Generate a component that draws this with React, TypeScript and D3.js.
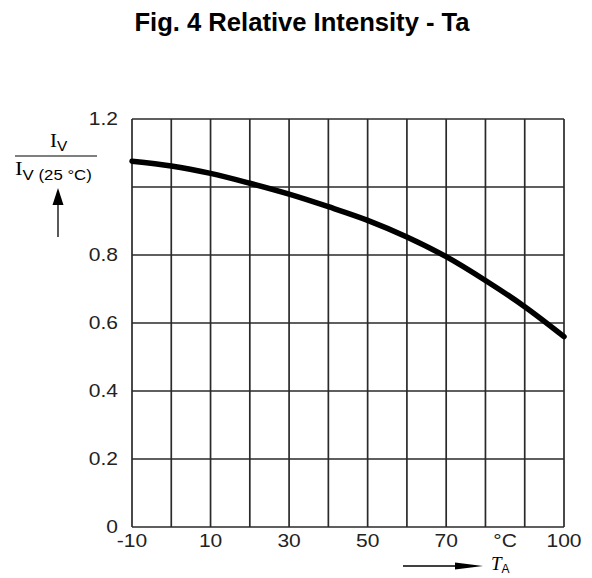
import React from "react";
import * as d3 from "d3";

const temps = [-10, 0, 10, 20, 30, 40, 50, 60, 70, 80, 90, 100];
const intensity = [1.076, 1.062, 1.04, 1.011, 0.979, 0.942, 0.902, 0.853, 0.795, 0.725, 0.648, 0.56];
const xGrid = [-10, 0, 10, 20, 30, 40, 50, 60, 70, 80, 90, 100];
const yGrid = [0, 0.2, 0.4, 0.6, 0.8, 1.0, 1.2];
const xTickValues = [-10, 10, 30, 50, 70, 85, 100];
const xTickLabels = ["-10", "10", "30", "50", "70", "°C", "100"];
const yTickValues = [0, 0.2, 0.4, 0.6, 0.8, 1.2];
const yTickLabels = ["0", "0.2", "0.4", "0.6", "0.8", "1.2"];
const title = "Fig. 4 Relative Intensity - Ta";

export default function App() {
  const W = 592, H = 578;
  const x = d3.scaleLinear().domain([-10, 100]).range([132, 564]);
  const y = d3.scaleLinear().domain([0, 1.2]).range([527, 119]);
  const pts = temps.map((t, i) => [t, intensity[i]] as [number, number]);
  const line = d3.line<[number, number]>().x(d => x(d[0])).y(d => y(d[1])).curve(d3.curveCatmullRom);
  const sans = "'Liberation Sans', Arial, sans-serif";
  const serif = "'Liberation Serif', 'Times New Roman', serif";
  const gridColor = "#2a2a2a";
  const sx = 1.2;
  return (
    <svg width={W} height={H} style={{ position: "absolute", left: 0, top: 0, background: "#fff" }}>
      <rect x={0} y={0} width={W} height={H} fill="#fff" />
      <text x={302} y={31} textAnchor="middle" fontFamily={sans} fontWeight="bold" fontSize={25.6} fill="#000">{title}</text>
      {xGrid.map(v => (
        <line key={"vx" + v} x1={x(v)} x2={x(v)} y1={y(0)} y2={y(1.2)} stroke={gridColor} strokeWidth={1.7} />
      ))}
      {yGrid.map(v => (
        <line key={"hy" + v} x1={x(-10)} x2={x(100)} y1={y(v)} y2={y(v)} stroke={gridColor} strokeWidth={1.7} />
      ))}
      {yTickValues.map((v, i) => (
        <g key={"yt" + v} transform={`translate(118,${y(v) + 6}) scale(${sx},1)`}>
          <text x={0} y={0} textAnchor="end" fontFamily={sans} fontSize={17.5} fill="#222">{yTickLabels[i]}</text>
        </g>
      ))}
      {xTickValues.map((v, i) => (
        <g key={"xt" + v} transform={`translate(${x(v)},547) scale(${sx},1)`}>
          <text x={0} y={0} textAnchor="middle" fontFamily={sans} fontSize={17.5} fill="#222">{xTickLabels[i]}</text>
        </g>
      ))}
      <path d={line(pts) || ""} fill="none" stroke="#000" strokeWidth={5.5} strokeLinecap="round" />
      {/* Y axis label: fraction */}
      <g transform="translate(50,147) scale(1.1,1)">
        <text x={0} y={0} fontFamily={serif} fontSize={19} fill="#000">I<tspan fontFamily={sans} fontSize={14} dy={4}>V</tspan></text>
      </g>
      <line x1={15} x2={97} y1={156} y2={156} stroke="#000" strokeWidth={1.2} />
      <g transform="translate(15,175) scale(1.2,1)">
        <text x={0} y={0} fontFamily={serif} fontSize={19} fill="#000">I<tspan fontFamily={sans} fontSize={14} dy={5}>V (25 °C)</tspan></text>
      </g>
      <line x1={58} x2={58} y1={237} y2={200} stroke="#000" strokeWidth={1.3} />
      <path d="M58,188 L63.5,205 L52.5,205 Z" fill="#000" />
      {/* X axis label */}
      <line x1={403} x2={460} y1={566} y2={566} stroke="#000" strokeWidth={1.3} />
      <path d="M483,566 L455,562.5 L455,569.5 Z" fill="#000" />
      <text x={491} y={570} fontFamily={serif} fontStyle="italic" fontSize={19} fill="#000">T<tspan fontFamily={sans} fontStyle="normal" fontSize={12} dy={3}>A</tspan></text>
    </svg>
  );
}
